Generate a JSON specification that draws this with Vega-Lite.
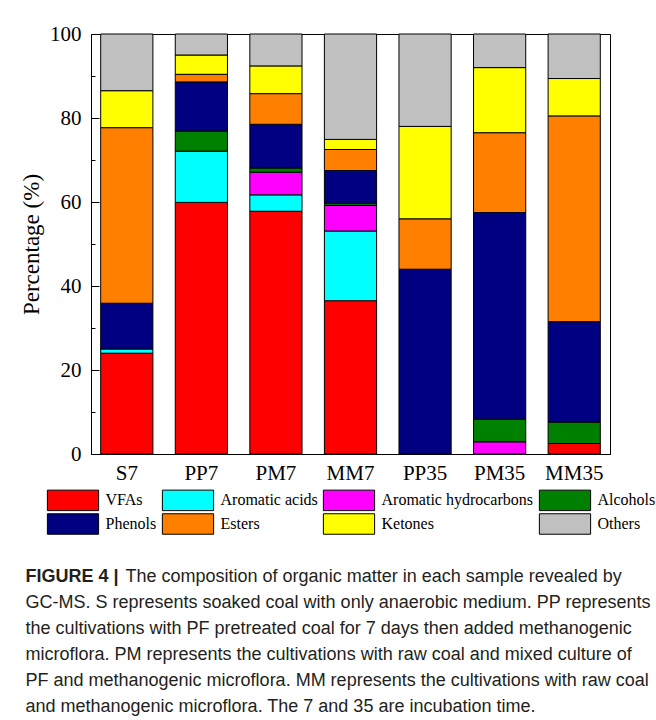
{
  "$schema": "https://vega.github.io/schema/vega-lite/v6.json",
  "width": 519,
  "height": 420,
  "padding": {"left": 20, "top": 23, "right": 5, "bottom": 5},
  "data": {
    "values": [
      {"sample": "S7", "group": "VFAs", "pct": 24.0},
      {"sample": "S7", "group": "Aromatic acids", "pct": 1.0},
      {"sample": "S7", "group": "Phenols", "pct": 10.9},
      {"sample": "S7", "group": "Esters", "pct": 41.8},
      {"sample": "S7", "group": "Ketones", "pct": 8.8},
      {"sample": "S7", "group": "Others", "pct": 13.5},
      {"sample": "PP7", "group": "VFAs", "pct": 59.9},
      {"sample": "PP7", "group": "Aromatic acids", "pct": 12.2},
      {"sample": "PP7", "group": "Alcohols", "pct": 4.8},
      {"sample": "PP7", "group": "Phenols", "pct": 11.7},
      {"sample": "PP7", "group": "Esters", "pct": 1.8},
      {"sample": "PP7", "group": "Ketones", "pct": 4.6},
      {"sample": "PP7", "group": "Others", "pct": 5.0},
      {"sample": "PM7", "group": "VFAs", "pct": 57.8},
      {"sample": "PM7", "group": "Aromatic acids", "pct": 3.9},
      {"sample": "PM7", "group": "Aromatic hydrocarbons", "pct": 5.4},
      {"sample": "PM7", "group": "Alcohols", "pct": 1.0},
      {"sample": "PM7", "group": "Phenols", "pct": 10.4},
      {"sample": "PM7", "group": "Esters", "pct": 7.3},
      {"sample": "PM7", "group": "Ketones", "pct": 6.6},
      {"sample": "PM7", "group": "Others", "pct": 7.6},
      {"sample": "MM7", "group": "VFAs", "pct": 36.5},
      {"sample": "MM7", "group": "Aromatic acids", "pct": 16.6},
      {"sample": "MM7", "group": "Aromatic hydrocarbons", "pct": 6.1},
      {"sample": "MM7", "group": "Alcohols", "pct": 0.5},
      {"sample": "MM7", "group": "Phenols", "pct": 7.8},
      {"sample": "MM7", "group": "Esters", "pct": 5.0},
      {"sample": "MM7", "group": "Ketones", "pct": 2.4},
      {"sample": "MM7", "group": "Others", "pct": 25.1},
      {"sample": "PP35", "group": "Phenols", "pct": 44.0},
      {"sample": "PP35", "group": "Esters", "pct": 12.0},
      {"sample": "PP35", "group": "Ketones", "pct": 22.0},
      {"sample": "PP35", "group": "Others", "pct": 22.0},
      {"sample": "PM35", "group": "Aromatic hydrocarbons", "pct": 2.9},
      {"sample": "PM35", "group": "Alcohols", "pct": 5.4},
      {"sample": "PM35", "group": "Phenols", "pct": 49.2},
      {"sample": "PM35", "group": "Esters", "pct": 19.0},
      {"sample": "PM35", "group": "Ketones", "pct": 15.5},
      {"sample": "PM35", "group": "Others", "pct": 8.0},
      {"sample": "MM35", "group": "VFAs", "pct": 2.5},
      {"sample": "MM35", "group": "Alcohols", "pct": 5.1},
      {"sample": "MM35", "group": "Phenols", "pct": 23.9},
      {"sample": "MM35", "group": "Esters", "pct": 49.0},
      {"sample": "MM35", "group": "Ketones", "pct": 8.9},
      {"sample": "MM35", "group": "Others", "pct": 10.6}
    ]
  },
  "transform": [
    {"calculate": "indexof(['VFAs', 'Aromatic acids', 'Aromatic hydrocarbons', 'Alcohols', 'Phenols', 'Esters', 'Ketones', 'Others'], datum.group)", "as": "stackOrder"}
  ],
  "title": {
    "text": "FIGURE 4 |",
    "subtitle": [
      "\u200b\u00a0\u00a0\u00a0\u00a0\u00a0\u00a0\u00a0\u00a0\u00a0\u00a0\u00a0\u00a0\u00a0\u00a0\u00a0\u00a0\u00a0\u00a0\u00a0\u00a0The composition of organic matter in each sample revealed by",
      "GC-MS. S represents soaked coal with only anaerobic medium. PP represents",
      "the cultivations with PF pretreated coal for 7 days then added methanogenic",
      "microflora. PM represents the cultivations with raw coal and mixed culture of",
      "PF and methanogenic microflora. MM represents the cultivations with raw coal",
      "and methanogenic microflora. The 7 and 35 are incubation time."
    ],
    "orient": "bottom",
    "anchor": "start",
    "offset": 31,
    "dx": 5,
    "font": "Liberation Sans",
    "fontSize": 18,
    "fontWeight": "bold",
    "color": "#231f20",
    "subtitleFont": "Liberation Sans",
    "subtitleFontSize": 18,
    "subtitleFontWeight": "normal",
    "subtitleColor": "#231f20",
    "subtitleLineHeight": 26,
    "subtitlePadding": -18
  },
  "layer": [
    {
      "mark": {"type": "bar", "stroke": "#000000", "strokeWidth": 1},
      "encoding": {
        "x": {
          "field": "sample",
          "type": "nominal",
          "sort": ["S7", "PP7", "PM7", "MM7", "PP35", "PM35", "MM35"],
          "scale": {"paddingInner": 0.3, "paddingOuter": 0.13},
          "axis": {"title": null, "labelAngle": 0, "ticks": false, "labelPadding": 8, "labelFontSize": 21, "labelFont": "Liberation Serif", "labelColor": "#000", "domainColor": "#000"}
        },
        "y": {
          "field": "pct",
          "type": "quantitative",
          "stack": "zero",
          "scale": {"domain": [0, 100], "nice": false},
          "axis": {"title": "Percentage (%)", "values": [0, 20, 40, 60, 80, 100], "tickSize": -8, "tickColor": "#000", "labelPadding": 18, "labelFontSize": 21, "labelFont": "Liberation Serif", "labelColor": "#000", "titleFont": "Liberation Serif", "titleFontSize": 23, "titleFontWeight": "normal", "titleColor": "#000", "titlePadding": 6, "grid": false, "domainColor": "#000", "orient": "left"}
        },
        "color": {
          "field": "group",
          "type": "nominal",
          "sort": ["VFAs", "Aromatic acids", "Aromatic hydrocarbons", "Alcohols", "Phenols", "Esters", "Ketones", "Others"],
          "scale": {
            "domain": ["VFAs", "Aromatic acids", "Aromatic hydrocarbons", "Alcohols", "Phenols", "Esters", "Ketones", "Others"],
            "range": ["#ff0000", "#00ffff", "#ff00ff", "#008000", "#000080", "#ff8000", "#ffff00", "#c0c0c0"]
          },
          "legend": {
            "title": null,
            "orient": "none",
            "legendX": -29,
            "legendY": 455,
            "direction": "horizontal",
            "columns": 4,
            "columnPadding": 3,
            "rowPadding": -4,
            "symbolType": "M-2.5,-1H2.5V1H-2.5Z",
            "symbolSize": 420,
            "symbolStrokeColor": "#000",
            "symbolStrokeWidth": 1,
            "symbolOpacity": 1,
            "labelOffset": 21.5,
            "labelFont": "Liberation Serif",
            "labelFontSize": 16,
            "labelColor": "#000",
            "labelLimit": 300
          }
        },
        "order": {"field": "stackOrder", "type": "quantitative", "sort": "ascending"}
      }
    },
    {
      "mark": {"type": "tick", "opacity": 0},
      "encoding": {
        "y": {
          "field": "pct",
          "type": "quantitative",
          "axis": {"title": null, "values": [10, 30, 50, 70, 90], "tickSize": -4, "tickColor": "#000", "labels": false, "domain": false, "grid": false, "orient": "left"}
        }
      }
    }
  ],
  "resolve": {"axis": {"y": "independent"}},
  "config": {
    "view": {"stroke": "#000", "strokeWidth": 1}
  }
}
